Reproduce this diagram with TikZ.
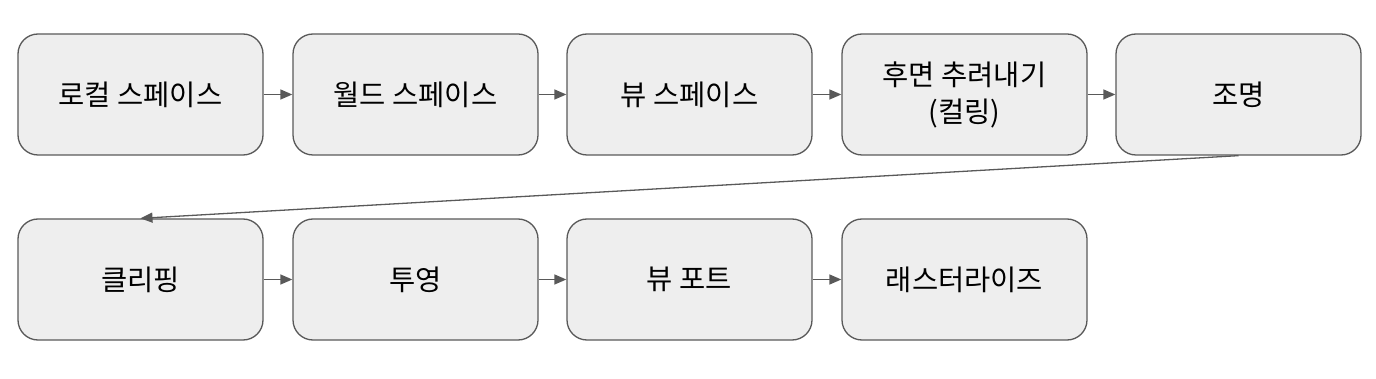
\documentclass[tikz,border=0pt]{standalone}
\usepackage{fontspec}
\newfontfamily\kr{Noto Sans CJK KR}
\usetikzlibrary{arrows.meta}
\definecolor{boxfill}{HTML}{EEEEEE}
\definecolor{boxline}{HTML}{595959}
\begin{document}
\begin{tikzpicture}[x=1pt,y=-1pt,
  stage/.style={draw=boxline,fill=boxfill,line width=1.3pt,rounded corners=20pt,
    minimum width=245pt,minimum height=121pt,inner sep=0pt,align=center,
    font=\kr\fontsize{28.5}{37}\selectfont,text=black},
  flow/.style={draw=boxline,line width=1.3pt,-{Triangle[length=12pt,width=10pt]}}]
\useasboundingbox (0,0) rectangle (1376,379);
\node[stage] (a) at (140.5,94.5) {로컬 스페이스};
\node[stage] (b) at (415.5,94.5) {월드 스페이스};
\node[stage] (c) at (689.5,94.5) {뷰 스페이스};
\node[stage] (d) at (964.5,94.5) {후면 추려내기\\(컬링)};
\node[stage] (e) at (1238.5,94.5) {조명};
\node[stage] (f) at (140.5,279.5) {클리핑};
\node[stage] (g) at (415.5,279.5) {투영};
\node[stage] (h) at (689.5,279.5) {뷰 포트};
\node[stage] (i) at (964.5,279.5) {래스터라이즈};
\draw[flow] (a) -- (b);
\draw[flow] (b) -- (c);
\draw[flow] (c) -- (d);
\draw[flow] (d) -- (e);
\draw[flow] (e.south) -- (f.north);
\draw[flow] (f) -- (g);
\draw[flow] (g) -- (h);
\draw[flow] (h) -- (i);
\end{tikzpicture}
\end{document}
